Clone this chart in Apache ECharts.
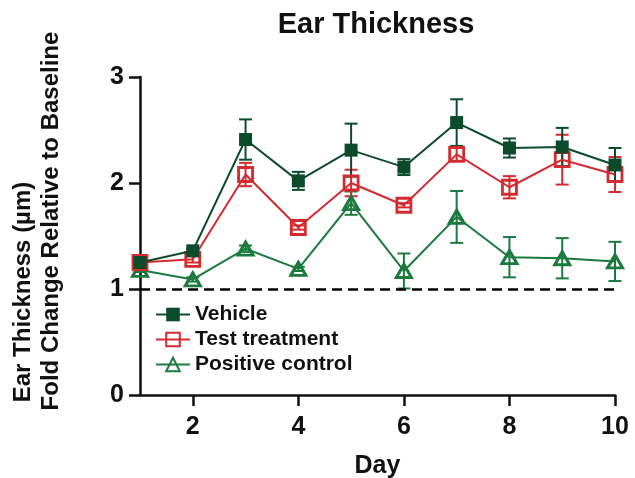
<!DOCTYPE html>
<html>
<head>
<meta charset="utf-8">
<script src="https://cdn.jsdelivr.net/npm/echarts@6/dist/echarts.min.js"></script>
<style>html,body{margin:0;padding:0;background:#fff;}#c{width:635px;height:478px;}</style>
</head>
<body>
<div id="c"></div>
<script>
const days = [1,2,3,4,5,6,7,8,9,10];
const xTicks = [2,4,6,8,10];
const yTicks = [0,1,2,3];
const vehicle = [1.25,1.36,2.41,2.02,2.31,2.15,2.57,2.33,2.34,2.17];
const vehicleErr = [0.02,0.02,0.19,0.085,0.25,0.075,0.22,0.09,0.18,0.16];
const test = [1.25,1.28,2.08,1.58,2.00,1.79,2.27,1.96,2.22,2.08];
const testErr = [0.02,0.03,0.11,0.02,0.125,0.02,0.06,0.105,0.235,0.165];
const positive = [1.18,1.09,1.38,1.19,1.81,1.17,1.68,1.30,1.29,1.26];
const positiveErr = [0.02,0.02,0.03,0.02,0.11,0.165,0.245,0.19,0.19,0.185];
const baseline = 1;

const FONT = '"Liberation Sans", Arial, sans-serif';
const C_VEH = '#0b4a2b';
const C_TEST = '#d42a30';
const C_POS = '#1b7a3d';

function pairs(vals){ return days.map((d,i)=>[d, vals[i]]); }
function errData(vals, errs){ return days.map((d,i)=>[d, vals[i]-errs[i], vals[i]+errs[i]]); }

function errSeries(name, vals, errs, color){
  return {
    type:'custom', name: name+' SEM', silent:true, z:3,
    data: errData(vals, errs),
    encode:{x:0, y:[1,2]},
    renderItem: function(params, api){
      const x = api.value(0);
      const lo = api.coord([x, api.value(1)]);
      const hi = api.coord([x, api.value(2)]);
      const hw = 6.5;
      const st = {stroke: color, lineWidth: 2};
      return {type:'group', children:[
        {type:'line', shape:{x1:lo[0], y1:lo[1], x2:hi[0], y2:hi[1]}, style:st},
        {type:'line', shape:{x1:lo[0]-hw, y1:lo[1], x2:lo[0]+hw, y2:lo[1]}, style:st},
        {type:'line', shape:{x1:hi[0]-hw, y1:hi[1], x2:hi[0]+hw, y2:hi[1]}, style:st}
      ]};
    }
  };
}

const chart = echarts.init(document.getElementById('c'), null, {renderer:'canvas'});
chart.setOption({
  animation:false,
  backgroundColor:'#fff',
  textStyle:{fontFamily:FONT},
  title:{
    text:'Ear Thickness', left:371, top:5, textAlign:'center',
    textStyle:{fontFamily:FONT, fontWeight:'bold', fontSize:29, color:'#111'}
  },
  grid:{left:140, right:20, top:77, bottom:83, containLabel:false, outerBoundsMode:'none'},
  legend:{
    orient:'vertical', left:150, top:299, itemWidth:34, itemHeight:17, itemGap:4,
    data:['Vehicle','Test treatment','Positive control'],
    textStyle:{fontFamily:FONT, fontWeight:'bold', fontSize:21, color:'#111'}
  },
  xAxis:{
    type:'value', min:1, max:10,
    name:'Day', nameLocation:'middle', nameGap:59,
    nameTextStyle:{fontFamily:FONT, fontWeight:'bold', fontSize:25, color:'#111'},
    axisLine:{show:true, lineStyle:{color:'#111', width:2.5}},
    axisTick:{show:true, length:11, lineStyle:{color:'#111', width:2.5}, customValues:xTicks},
    axisLabel:{margin:20, fontFamily:FONT, fontWeight:'bold', fontSize:25, color:'#111', customValues:xTicks},
    splitLine:{show:false}
  },
  yAxis:{
    type:'value', min:0, max:3, interval:1,
    axisLine:{show:true, lineStyle:{color:'#111', width:2.5}},
    axisTick:{show:true, length:11, lineStyle:{color:'#111', width:2.5}, customValues:yTicks},
    axisLabel:{margin:16, fontFamily:FONT, fontWeight:'bold', fontSize:25, color:'#111', customValues:yTicks},
    splitLine:{show:false}
  },
  graphic:[{
    type:'text', x:23, y:292, rotation:Math.PI/2, silent:true,
    style:{
      text:'Ear Thickness (µm)',
      font:'bold 24px ' + FONT, fill:'#111',
      align:'center', verticalAlign:'middle'
    }
  },{
    type:'text', x:51, y:221, rotation:Math.PI/2, silent:true,
    style:{
      text:'Fold Change Relative to Baseline',
      font:'bold 24px ' + FONT, fill:'#111',
      align:'center', verticalAlign:'middle'
    }
  }],
  series:[
    {
      name:'Positive control', type:'line', data:pairs(positive), z:4,
      symbol:'triangle', symbolSize:[15,13],
      lineStyle:{color:C_POS, width:2},
      itemStyle:{color:'rgba(255,255,255,0)', borderColor:C_POS, borderWidth:3},
      markLine:{
        silent:true, symbol:'none', label:{show:false},
        lineStyle:{color:'#000', width:2.5, type:[10,6]},
        data:[{yAxis:baseline}]
      }
    },
    errSeries('Positive control', positive, positiveErr, C_POS),
    {
      name:'Test treatment', type:'line', data:pairs(test), z:5,
      symbol:'rect', symbolSize:14,
      lineStyle:{color:C_TEST, width:2},
      itemStyle:{color:'rgba(255,255,255,0)', borderColor:C_TEST, borderWidth:2.8}
    },
    errSeries('Test treatment', test, testErr, C_TEST),
    {
      name:'Vehicle', type:'line', data:pairs(vehicle), z:6,
      symbol:'rect', symbolSize:13,
      lineStyle:{color:C_VEH, width:2},
      itemStyle:{color:C_VEH, borderColor:C_VEH, borderWidth:0}
    },
    errSeries('Vehicle', vehicle, vehicleErr, C_VEH)
  ]
});
</script>
</body>
</html>
